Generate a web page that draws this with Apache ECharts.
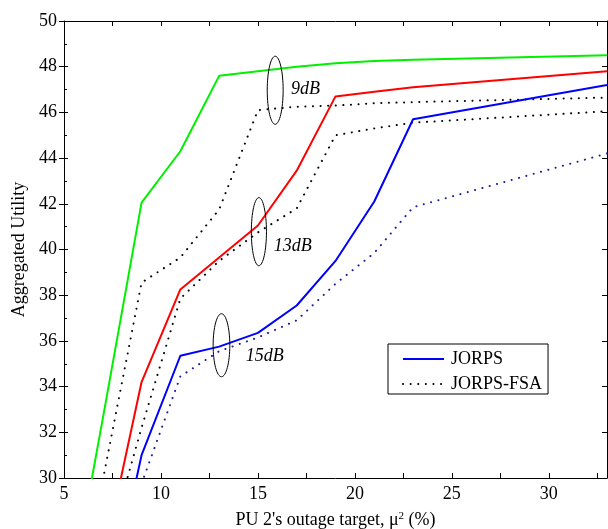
<!DOCTYPE html>
<html>
<head>
<meta charset="utf-8">
<script src="https://cdn.jsdelivr.net/npm/echarts@6/dist/echarts.min.js"></script>
<style>
  html, body { margin: 0; padding: 0; background: #fff; }
  #chart { width: 608px; height: 529px; }
</style>
</head>
<body>
<div id="chart"></div>
<script>
// outage target (%) sampled along x
const outage = [5, 7, 9, 11, 13, 15, 17, 19, 21, 23, 33];

// JORPS (solid)
const jorps9 = [23.3, 32.6, 42.05, 44.3, 47.6, 47.8, 48.0, 48.15, 48.25, 48.3, 48.5];
const jorps13 = [null, 26.3, 34.2, 38.25, 39.65, 41.05, 43.45, 46.7, 46.9, 47.1, 47.8];
const jorps15 = [null, 23.2, 31.0, 35.35, 35.75, 36.35, 37.55, 39.5, 42.1, 45.7, 47.2];

// JORPS-FSA (dotted)
const fsa9 = [null, 29.9, 38.55, 39.65, 41.75, 46.1, 46.25, 46.3, 46.4, 46.45, 46.65];
const fsa13 = [null, 26.2, 32.2, 37.85, 39.5, 40.75, 41.8, 45.0, 45.3, 45.55, 46.05];
const fsa15 = [null, 25.05, 29.75, 34.45, 35.55, 36.15, 36.9, 38.5, 39.85, 41.85, 44.2];

// ellipse groups: [cx, cy, half width, half height] in data units, and label anchor
const rings = [[15.89, 46.97, 0.41, 1.49], [15.05, 40.78, 0.39, 1.49], [13.12, 35.81, 0.43, 1.38]];
const ringLabels = [['9dB', 16.7, 47.0], ['13dB', 15.82, 40.12], ['15dB', 14.37, 35.31]];

const font = '"Liberation Serif", "DejaVu Serif", serif';

function pairs(ys) {
  return outage.map((x, i) => [x, ys[i]]);
}

function solid(name, ys, color) {
  return {
    name: name, type: 'line', data: pairs(ys), symbol: 'none',
    lineStyle: { color: color, width: 2 }, itemStyle: { color: color },
    emphasis: { disabled: true }
  };
}

function dotted(name, ys, color) {
  return {
    name: name, type: 'line', data: pairs(ys), symbol: 'none',
    lineStyle: { color: color, width: 2, type: [0.1, 7.5], cap: 'round' }, itemStyle: { color: color },
    emphasis: { disabled: true }
  };
}

const chart = echarts.init(document.getElementById('chart'));

const tickStyle = { color: '#000', width: 1 };

chart.setOption({
  animation: false,
  grid: { left: 64, right: 1, top: 21, bottom: 51, containLabel: false, outerBoundsMode: 'none' },
  legend: {
    data: ['JORPS', 'JORPS-FSA'],
    orient: 'vertical',
    left: 388, top: 344,
    padding: [6, 6, 1, 14],
    itemGap: 7,
    itemWidth: 41, itemHeight: 14,
    itemStyle: { opacity: 0 },
    backgroundColor: '#fff',
    borderColor: '#000', borderWidth: 1, borderRadius: 0,
    textStyle: { fontFamily: font, fontSize: 18, color: '#000', padding: [0, 0, 0, 2] },
    selectedMode: false
  },
  xAxis: [{
    type: 'value', min: 5, max: 33, interval: 5,
    name: 'PU 2\'s outage target, μ{sup|2} (%)',
    nameLocation: 'middle', nameGap: 33,
    nameTextStyle: {
      fontFamily: font, fontSize: 18, color: '#000',
      rich: { sup: { fontFamily: font, fontSize: 11, verticalAlign: 'top', padding: [0, 0, 8, 0], color: '#000' } }
    },
    axisLine: { show: true, lineStyle: tickStyle },
    axisTick: { show: true, inside: true, length: 5, lineStyle: tickStyle },
    minorTick: { show: true, splitNumber: 2, length: 5, lineStyle: tickStyle },
    axisLabel: { fontFamily: font, fontSize: 18, color: '#000', margin: 7, showMaxLabel: false },
    splitLine: { show: false }
  }, {
    type: 'value', min: 5, max: 33, interval: 2.5, position: 'top',
    axisLine: { show: true, onZero: false, lineStyle: tickStyle },
    axisTick: { show: true, inside: true, length: 5, lineStyle: tickStyle },
    axisLabel: { show: false },
    splitLine: { show: false }
  }],
  yAxis: [{
    type: 'value', min: 30, max: 50, interval: 2,
    name: 'Aggregated Utility',
    nameLocation: 'middle', nameGap: 35,
    nameTextStyle: { fontFamily: font, fontSize: 18, color: '#000' },
    axisLine: { show: true, lineStyle: tickStyle },
    axisTick: { show: true, inside: true, length: 4, lineStyle: tickStyle },
    minorTick: { show: true, splitNumber: 2, length: 3, lineStyle: tickStyle },
    axisLabel: { fontFamily: font, fontSize: 18, color: '#000', margin: 7 },
    splitLine: { show: false }
  }, {
    type: 'value', min: 30, max: 50, interval: 2, position: 'left',
    axisLine: { show: false },
    axisTick: { show: true, inside: false, length: 5, lineStyle: tickStyle },
    axisLabel: { show: false },
    splitLine: { show: false }
  }, {
    type: 'value', min: 30, max: 50, interval: 2, position: 'right',
    axisLine: { show: true, onZero: false, lineStyle: tickStyle },
    axisTick: { show: true, inside: true, length: 5, lineStyle: tickStyle },
    axisLabel: { show: false },
    splitLine: { show: false }
  }],
  series: [
    dotted('JORPS-FSA', fsa9, '#000'),
    dotted('FSA 13dB', fsa13, '#000'),
    dotted('FSA 15dB', fsa15, '#1c1c9c'),
    solid('JORPS 9dB', jorps9, '#00f000'),
    solid('JORPS 13dB', jorps13, '#ff0000'),
    solid('JORPS', jorps15, '#0000ff')
  ]
});

// ellipses and their dB labels, placed through the axes
const graphics = [];
rings.forEach(function (r) {
  const c = chart.convertToPixel({ xAxisIndex: 0, yAxisIndex: 0 }, [r[0], r[1]]);
  const e = chart.convertToPixel({ xAxisIndex: 0, yAxisIndex: 0 }, [r[0] + r[2], r[1] + r[3]]);
  graphics.push({
    type: 'ellipse',
    shape: { cx: c[0], cy: c[1], rx: e[0] - c[0], ry: c[1] - e[1] },
    style: { fill: 'none', stroke: '#000', lineWidth: 1 },
    z: 10
  });
});
ringLabels.forEach(function (l) {
  const p = chart.convertToPixel({ xAxisIndex: 0, yAxisIndex: 0 }, [l[1], l[2]]);
  graphics.push({
    type: 'text', x: p[0], y: p[1],
    style: {
      text: l[0], fill: '#000', font: 'italic 18px ' + font,
      textAlign: 'left', textVerticalAlign: 'middle'
    },
    z: 10
  });
});
chart.setOption({ graphic: graphics });
</script>
</body>
</html>
